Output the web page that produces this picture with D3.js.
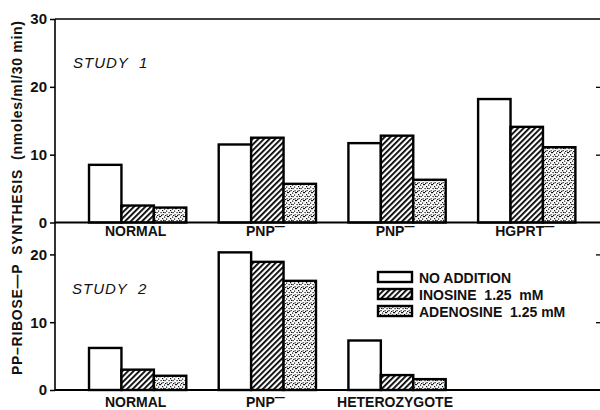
<!DOCTYPE html>
<html><head><meta charset="utf-8">
<script src="https://cdn.jsdelivr.net/npm/d3@7"></script>
<style>body{margin:0;background:#fff}svg{display:block}</style>
</head><body>
<svg id="c" width="600" height="410"></svg>
<script>
// ---- data ----
const series = ["NO ADDITION", "INOSINE  1.25  mM", "ADENOSINE  1.25 mM"];
const study1Groups = ["NORMAL", "PNP1", "PNP2", "HGPRT"];
const study1Labels = ["NORMAL", "PNP", "PNP", "HGPRT"];
const study1Super = [false, true, true, true];
const study1NoAddition = [8.5, 11.5, 11.7, 18.2];
const study1Inosine = [2.5, 12.5, 12.8, 14.1];
const study1Adenosine = [2.2, 5.7, 6.3, 11.1];
const study2Groups = ["NORMAL", "PNP", "HETEROZYGOTE"];
const study2Labels = ["NORMAL", "PNP", "HETEROZYGOTE"];
const study2Super = [false, true, false];
const study2NoAddition = [6.2, 20.3, 7.3];
const study2Inosine = [3.0, 18.9, 2.2];
const study2Adenosine = [2.1, 16.1, 1.6];
const study1Ticks = [0, 10, 20, 30];
const study2Ticks = [0, 10, 20];

const svg = d3.select("#c");
const defs = svg.append("defs");
// hatch pattern
const hp = defs.append("pattern").attr("id","hatch").attr("patternUnits","userSpaceOnUse")
  .attr("width",4).attr("height",4).attr("patternTransform","rotate(45)");
hp.append("rect").attr("width",4).attr("height",4).attr("fill","#fff");
hp.append("rect").attr("x",0).attr("y",0).attr("width",1.8).attr("height",4).attr("fill","#000");
// stipple pattern
const dp = defs.append("pattern").attr("id","dots").attr("patternUnits","userSpaceOnUse")
  .attr("width",8).attr("height",8);
dp.append("rect").attr("width",8).attr("height",8).attr("fill","#fff");
[[0,0],[4,0.5],[2,2],[6,2.5],[0.5,4],[4.5,4],[2.5,6],[6.5,6.2],[7,0],[3,3.8],[1,6.8],[5,7]].forEach(p=>
  dp.append("rect").attr("x",p[0]).attr("y",p[1]).attr("width",1.2).attr("height",1.2).attr("fill","#111"));
const fills = ["#fff","url(#hatch)","url(#dots)"];

const font = "'Liberation Sans', Arial, Helvetica, sans-serif";
const xL = 55, xR = 600;

const x0 = d3.scaleBand().domain(study1Groups).range([72.8, 591.6]).paddingInner(0.25).paddingOuter(0.125);
const x1 = d3.scaleBand().domain(series).range([0, x0.bandwidth()]);
const x0b = d3.scaleBand().domain(study2Groups.concat(["_"])).range([72.8, 591.6]).paddingInner(0.25).paddingOuter(0.125);

const y1 = d3.scaleLinear().domain([0,30]).range([222.5, 19]);
const y2 = d3.scaleLinear().domain([0,25]).range([390, 390 - 25*6.78]);

function panel(groups, labels, sup, vals, xs, y, ticks, labY) {
  const g = svg.append("g");
  groups.forEach((grp, i) => {
    series.forEach((s, j) => {
      const v = vals[j][i];
      g.append("rect")
        .attr("x", xs(grp) + x1(s))
        .attr("y", y(v))
        .attr("width", x1.bandwidth())
        .attr("height", y(0) - y(v))
        .attr("fill", fills[j]).attr("stroke","#000").attr("stroke-width",2.4);
    });
    const t = g.append("text").attr("x", xs(grp) + xs.bandwidth()/2 - 2).attr("y", labY)
      .attr("text-anchor","middle").attr("font-family",font).attr("font-size",14).attr("font-weight","bold")
      .attr("fill","#111").text(labels[i]);
    if (sup[i]) t.append("tspan").attr("dy",-6).attr("font-size",10).text("\u2014");
  });
  // left axis
  const ax = d3.axisLeft(y).tickValues(ticks).tickSize(5).tickPadding(3).tickFormat(d3.format("d"));
  const a = svg.append("g").attr("transform",`translate(${xL},0)`).call(ax);
  a.select(".domain").remove();
  a.selectAll("line").attr("stroke","#000").attr("stroke-width",1.5);
  a.selectAll("text").attr("font-family",font).attr("font-size",15).attr("font-weight","bold").attr("fill","#111");
  // right ticks
  const ar = d3.axisLeft(y).tickValues(ticks.filter(t=>t>0 && t<30)).tickSize(4).tickFormat("");
  const r = svg.append("g").attr("transform",`translate(${xR},0)`).call(ar);
  r.select(".domain").remove();
  r.selectAll("line").attr("stroke","#000").attr("stroke-width",1.3);
  // baseline
  svg.append("line").attr("x1",xL).attr("x2",xR).attr("y1",y(0)).attr("y2",y(0))
    .attr("stroke","#000").attr("stroke-width",2);
}

panel(study1Groups, study1Labels, study1Super, [study1NoAddition, study1Inosine, study1Adenosine], x0, y1, study1Ticks, 236);
panel(study2Groups, study2Labels, study2Super, [study2NoAddition, study2Inosine, study2Adenosine], x0b, y2, study2Ticks, 407);

// frame
svg.append("line").attr("x1",xL).attr("x2",xR).attr("y1",y1(30)).attr("y2",y1(30)).attr("stroke","#000").attr("stroke-width",1.6);
svg.append("line").attr("x1",xL).attr("x2",xL).attr("y1",y1(30)).attr("y2",y2(0)).attr("stroke","#000").attr("stroke-width",1.6);

// study labels
svg.append("text").attr("x",73).attr("y",68).attr("font-family",font).attr("font-size",15)
  .attr("font-style","italic").attr("letter-spacing",1).attr("fill","#111").text("STUDY  1").attr("xml:space","preserve");
svg.append("text").attr("x",72).attr("y",294).attr("font-family",font).attr("font-size",15)
  .attr("font-style","italic").attr("letter-spacing",1).attr("fill","#111").text("STUDY  2").attr("xml:space","preserve");

// y title
svg.append("text").attr("transform","translate(22,198) rotate(-90)").attr("text-anchor","middle")
  .attr("font-family",font).attr("font-size",14).attr("font-weight","bold").attr("fill","#111")
  .attr("textLength",354).attr("lengthAdjust","spacing")
  .text("PP\u2013RIBOSE\u2014P  SYNTHESIS  (nmoles/ml/30 min)").attr("xml:space","preserve");

// legend
const lg = svg.append("g").attr("transform","translate(378,272)");
series.forEach((s,j)=>{
  lg.append("rect").attr("x",0).attr("y",j*17).attr("width",34).attr("height",10)
    .attr("fill",fills[j]).attr("stroke","#000").attr("stroke-width",2.4);
  lg.append("text").attr("x",41).attr("y",j*17+10.5).attr("font-family",font).attr("font-size",14)
    .attr("font-weight","bold").attr("fill","#111").attr("xml:space","preserve").text(s);
});
</script>
</body></html>
